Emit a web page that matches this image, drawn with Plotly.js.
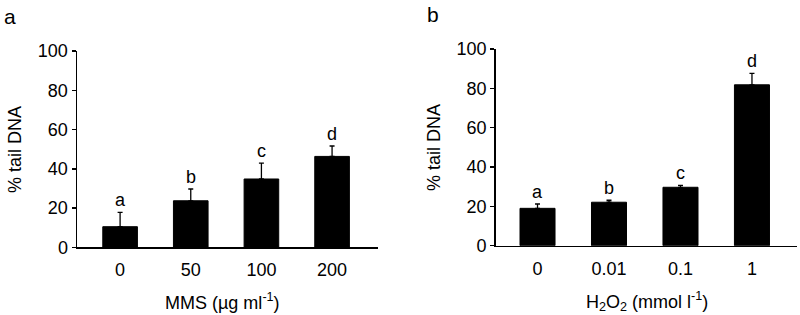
<!DOCTYPE html>
<html><head><meta charset="utf-8">
<script src="https://cdn.plot.ly/plotly-3.0.1.min.js"></script>
<style>html,body{margin:0;padding:0;background:#fff}#chart{width:800px;height:315px}</style>
</head><body><div id="chart"></div>
<script>
var catsA = ["0", "50", "100", "200"];
var valsA = [10.5, 23.7, 34.8, 46.3];
var errA = [7.3, 6.0, 8.1, 5.3];
var lettersA = ["a", "b", "c", "d"];

var catsB = ["0", "0.01", "0.1", "1"];
var valsB = [19.0, 22.1, 29.7, 81.8];
var errB = [2.2, 1.0, 1.0, 5.8];
var lettersB = ["a", "b", "c", "d"];

var yTicks = [0, 20, 40, 60, 80, 100];

var FONT = "Liberation Sans, Arial, sans-serif";
var FS = 18;

function barTrace(cats, vals, errs, xa, ya) {
  return {
    type: "bar", x: cats, y: vals, xaxis: xa, yaxis: ya, width: 0.49,
    marker: {color: "#000", line: {color: "#000", width: 1}},
    error_y: {type: "data", symmetric: false, array: errs, arrayminus: errs.map(function(){return 0;}),
      color: "#000", thickness: 1.3, width: 2.5},
    showlegend: false, hoverinfo: "none"
  };
}

var data = [barTrace(catsA, valsA, errA, "x", "y"), barTrace(catsB, valsB, errB, "x2", "y2")];

var annotations = [];
function addLetters(cats, vals, errs, letters, xr, yr) {
  for (var i = 0; i < cats.length; i++) {
    annotations.push({x: i, y: vals[i] + errs[i], xref: xr, yref: yr, text: letters[i],
      showarrow: false, xanchor: "center", yanchor: "bottom", yshift: 0, font: {family: FONT, size: FS, color: "#000"}});
  }
}
addLetters(catsA, valsA, errA, lettersA, "x", "y");
addLetters(catsB, valsB, errB, lettersB, "x2", "y2");

annotations.push({xref: "paper", yref: "paper", x: 2/800, y: 1 - 3/315, xanchor: "left", yanchor: "top",
  text: "a", showarrow: false, font: {family: FONT, size: 21, color: "#000"}});
annotations.push({xref: "paper", yref: "paper", x: 425/800, y: 1 - 1/315, xanchor: "left", yanchor: "top",
  text: "b", showarrow: false, font: {family: FONT, size: 21, color: "#000"}});
annotations.push({xref: "paper", yref: "paper", x: 15/800, y: 1 - 150/315, textangle: -90, xanchor: "center", yanchor: "middle",
  text: "% tail DNA", showarrow: false, font: {family: FONT, size: FS, color: "#000"}});
annotations.push({xref: "paper", yref: "paper", x: 434/800, y: 1 - 148/315, textangle: -90, xanchor: "center", yanchor: "middle",
  text: "% tail DNA", showarrow: false, font: {family: FONT, size: FS, color: "#000"}});
annotations.push({xref: "paper", yref: "paper", x: 222/800, y: 1 - 301/315, xanchor: "center", yanchor: "middle",
  text: "MMS (µg ml<sup>-1</sup>)", showarrow: false, font: {family: FONT, size: FS, color: "#000"}});
annotations.push({xref: "paper", yref: "paper", x: 647/800, y: 1 - 301/315, xanchor: "center", yanchor: "middle",
  text: "H<sub>2</sub>O<sub>2</sub> (mmol l<sup>-1</sup>)", showarrow: false, font: {family: FONT, size: FS, color: "#000"}});

function xAxis(dom, range, anchor) {
  return {domain: dom, range: range, type: "category", anchor: anchor, showline: true, linecolor: "#000", linewidth: 1.5,
    ticks: "", ticklabelstandoff: 6, showgrid: false, zeroline: false, tickfont: {family: FONT, size: FS, color: "#000"}, fixedrange: true};
}
function yAxis(dom, anchor) {
  return {domain: dom, range: [0, 100], anchor: anchor, tickvals: yTicks, showline: true, linecolor: "#000", linewidth: 1.5,
    ticks: "outside", ticklen: 4, tickwidth: 1.5, tickcolor: "#000", showgrid: false, zeroline: false,
    tickfont: {family: FONT, size: FS, color: "#000"}, fixedrange: true};
}

var layout = {
  width: 800, height: 315, margin: {l: 0, r: 0, t: 0, b: 0},
  paper_bgcolor: "#fff", plot_bgcolor: "#fff",
  xaxis: xAxis([77/800, 378/800], [-0.61, 3.65], "y"),
  yaxis: yAxis([1 - 247.3/315, 1 - 51/315], "x"),
  xaxis2: xAxis([495.7/800, 797/800], [-0.585, 3.63], "y2"),
  yaxis2: yAxis([1 - 245.7/315, 1 - 49/315], "x2"),
  annotations: annotations, bargap: 0.5
};

Plotly.newPlot("chart", data, layout, {staticPlot: true, displayModeBar: false});
</script></body></html>
